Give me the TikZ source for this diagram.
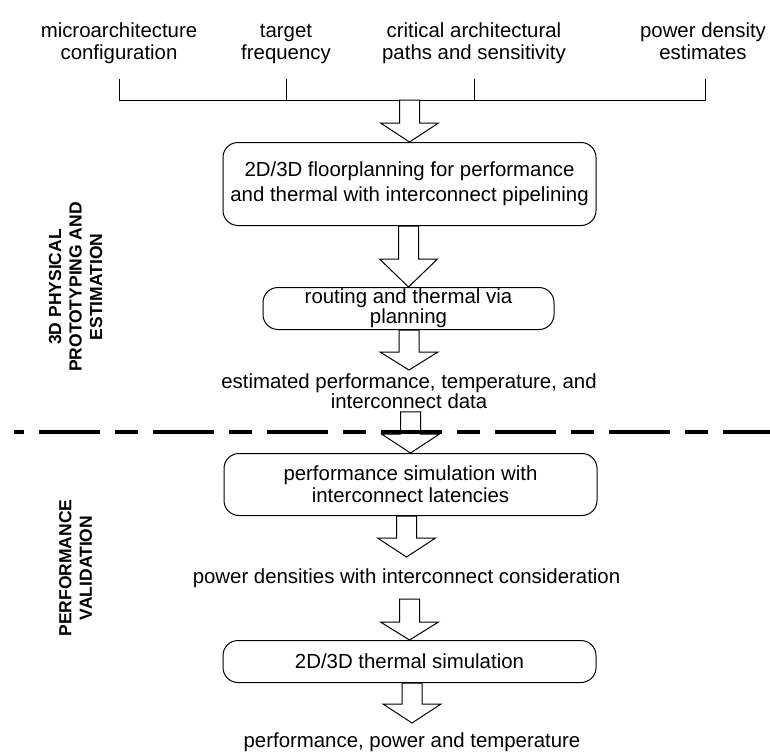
\documentclass[tikz,border=0pt]{standalone}
\usepackage{fontspec}
\setmainfont{Liberation Sans}
\usetikzlibrary{calc}

\newcommand{\hollowarrow}[3]{%
  \draw[fill=white] ($(#1 -| #2)+(-10,0)$) -- ($(#2)+(-10,-#3)$) -- ($(#2)+(-29,-#3)$) -- (#2)
    -- ($(#2)+(29,-#3)$) -- ($(#2)+(10,-#3)$) -- ($(#1 -| #2)+(10,0)$) -- cycle;
}

\begin{document}
\begin{tikzpicture}[x=1pt,y=-1pt,line width=1pt,
  font=\fontsize{20.4}{22}\selectfont,
  input/.style={anchor=north,align=center,inner sep=0pt},
  stage/.style={draw,anchor=north,rounded corners=15pt,inner sep=0pt,align=center,minimum width=373pt},
  result/.style={anchor=north,align=center,inner xsep=0pt},
  side/.style={rotate=90,align=center,font=\fontsize{17.5}{20.5}\selectfont\bfseries}]
\useasboundingbox (0,0) rectangle (770,755);

\node[input] (cfg) at (119,21.5) {\strut microarchitecture\\configuration};
\node[input] (freq) at (286,21.5) {\strut target\\frequency};
\node[input] (paths) at (474,21.5) {\strut critical architectural\\paths and sensitivity};
\node[input] (dens) at (703,21.5) {\strut power density\\estimates};

\coordinate (k1) at (119,79);
\coordinate (k2) at (286,79);
\coordinate (k3) at (474,79);
\coordinate (k4) at (705,79);
\coordinate (join) at (410,100);
\draw (k1) -- (k1 |- join) -- (k4 |- join) -- (k4);
\draw (k2) -- (k2 |- join);
\draw (k3) -- (k3 |- join);

\node[stage,minimum height=83pt,font=\fontsize{20.4}{25}\selectfont] (fp) at (409.5,142)
  {2D/3D floorplanning for performance\\and thermal with interconnect pipelining};
\node[stage,minimum width=291pt,minimum height=42pt,font=\fontsize{20.4}{19}\selectfont] (route) at (408.5,287)
  {routing and thermal via\\planning};
\node[result,inner ysep=3pt,font=\fontsize{20.4}{20}\selectfont] (est) at (409,370)
  {estimated performance, temperature, and\\interconnect data};
\node[stage,minimum height=62pt] (sim) at (410.5,453)
  {performance simulation with\\interconnect latencies};
\node[result,inner ysep=11pt] (pd) at (406.5,557) {power densities with interconnect consideration};
\node[stage,minimum height=42pt] (therm) at (409.5,640) {2D/3D thermal simulation};
\node[result,inner ysep=9pt] (final) at (412,723) {performance, power and temperature};

\hollowarrow{join}{fp.north}{19}
\hollowarrow{fp.south}{route.north}{28}
\hollowarrow{route.south}{est.north}{18}
\hollowarrow{est.south}{sim.north}{19}
\hollowarrow{sim.south}{pd.north}{19}
\hollowarrow{pd.south}{therm.north}{18}
\hollowarrow{therm.south}{final.north}{19}

\draw[line width=4pt,dash pattern=on 23pt off 15pt on 61pt off 15pt,dash phase=13pt] (14,432) -- (770,432);

\node[side] (phys) at (75.5,287) {3D PHYSICAL\\PROTOTYPING AND\\ESTIMATION};
\node[side] (valid) at (75.5,568) {PERFORMANCE\\VALIDATION};
\end{tikzpicture}
\end{document}
